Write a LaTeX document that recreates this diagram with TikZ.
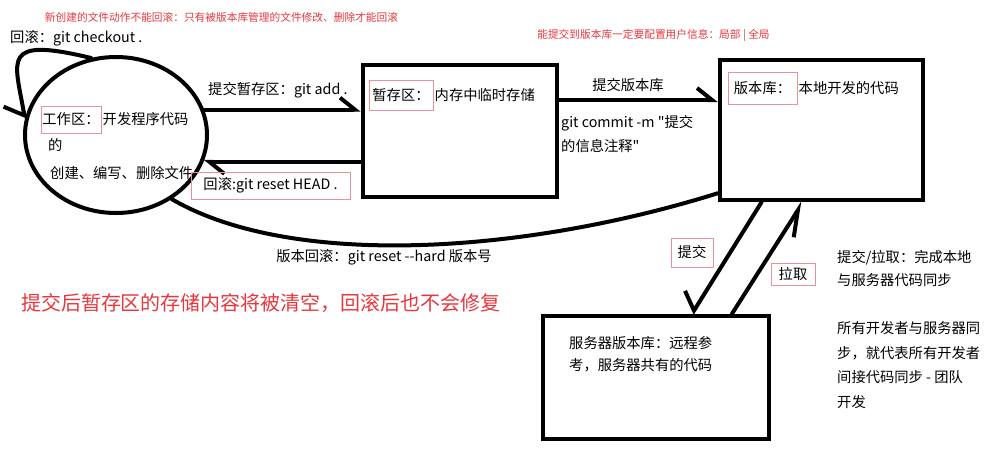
\documentclass[tikz,border=0pt]{standalone}
\usepackage{fontspec}
\setmainfont{Noto Sans CJK SC}[Ligatures=TeXOff]
\usetikzlibrary{arrows.meta}
\usetikzlibrary{shapes.geometric}
\usetikzlibrary{positioning}
\definecolor{framered}{HTML}{E8909C}
\definecolor{notered}{HTML}{E8363C}
\tikzset{
  % thick pen for the areas
  area/.style={draw, rectangle, line width=4.5pt},
  blob/.style={draw, ellipse, line width=4pt},
  % red framed keywords and plain texts
  tag/.style={draw=framered, line width=1pt, inner sep=0pt, font=\fontsize{14.3}{17}\selectfont},
  txt/.style={inner sep=0pt, align=left, font=\fontsize{14.3}{24}\selectfont},
  hint/.style={inner sep=0pt, text=notered, font=\fontsize{10.7}{13}\selectfont},
  flow/.style={draw, line width=4pt, line cap=round},
  barb/.tip={Straight Barb[harpoon, length=15pt, width=24pt]},
  barbr/.tip={Straight Barb[harpoon, swap, length=12pt, width=36pt]}
}
\begin{document}
\begin{tikzpicture}[x=1pt, y=1pt]
    \useasboundingbox (0,0) rectangle (1005,-448);

    % Areas
    \node [blob, minimum width=182pt, minimum height=156pt] (work) at (116,-135) {};
    \node [area, minimum width=194pt, minimum height=132pt] (stage) at (460,-131) {};
    \node [area, minimum width=203pt, minimum height=140pt] (repo) at (821.5,-130) {};
    \node [area, minimum width=226pt, minimum height=123pt] (server) at (656,-377.5) {};

    % Texts inside the areas
    \node [tag, minimum width=60pt, minimum height=27pt] (worktag) at (71,-119.5) {工作区：};
    \node [txt, right=1pt of worktag] (workdesc) {开发程序代码};
    \node [txt, anchor=west] (workof) at (48,-145) {的};
    \node [txt, anchor=west] (workops) at (50,-173) {创建、编写、删除文件};
    \node [tag, minimum width=64pt, minimum height=30pt] (stagetag) at (401,-95) {暂存区：};
    \node [txt, right=1pt of stagetag] (stagedesc) {内存中临时存储};
    \node [tag, minimum width=69pt, minimum height=32pt] (repotag) at (762.5,-88) {版本库：};
    \node [txt, right=1pt of repotag] (repodesc) {本地开发的代码};
    \node [txt, anchor=west, font=\fontsize{14.3}{22}\selectfont] (serverdesc) at (569,-354) {服务器版本库：远程参\\考，服务器共有的代码};

    % Connectors
    \coordinate (commitstart) at ([yshift=31pt]stage.east);
    \draw [flow, -{barb}] (work.16) -- (work.16 -| stage.west);
    \draw [flow, -{barb}] (stage.west |- work.-17) -- (work.-17);
    \draw [flow, -{barb}] (commitstart) -- (commitstart -| repo.west);
    \draw [flow, -{barbr}] ([xshift=-60pt]repo.south) -- ([xshift=36pt]server.north);
    \draw [flow, -{Straight Barb[harpoon, swap, length=25pt, width=22pt]}] ([xshift=76pt]server.north) -- ([xshift=-18.5pt]repo.south);
    \draw [flow, -{Straight Barb[harpoon, swap, length=12pt, width=38pt]}] (work.108) .. controls (0,-36) and (15,-60) .. (work.170);
    \draw [flow] (work.-49) .. controls (290,-268) and (520,-255) .. ([yshift=9pt]repo.south west);

    % Connector labels
    \node [txt, anchor=west] (checkout) at (10,-38) {回滚：git checkout .};
    \node [txt, anchor=west] (addlabel) at (208,-90) {提交暂存区：git add .};
    \node [tag, minimum width=159pt, minimum height=27pt] (resettag) at (270.5,-185.5) {回滚:git reset HEAD .};
    \node [txt] (commitlabel) at (628,-85) {提交版本库};
    \node [txt, anchor=west] (commitcmd) at (561,-134) {git commit -m "提交\\的信息注释"};
    \node [txt] (hardlabel) at (384,-257) {版本回滚：git reset --hard 版本号};
    \node [tag, minimum width=42pt, minimum height=29pt] (pushtag) at (692,-252.5) {提交};
    \node [tag, minimum width=44pt, minimum height=22pt] (pulltag) at (793,-274) {拉取};

    % Notes
    \node [hint] (hintnew) at (221.5,-17) {新创建的文件动作不能回滚：只有被版本库管理的文件修改、删除才能回滚};
    \node [hint] (hintuser) at (653.5,-35) {能提交到版本库一定要配置用户信息：局部 | 全局};
    \node [hint, font=\fontsize{20}{24}\selectfont] (hintclear) at (261,-303) {提交后暂存区的存储内容将被清空，回滚后也不会修复};
    \node [txt, anchor=west, font=\fontsize{14.3}{23}\selectfont] (syncnote) at (837,-268.5) {提交/拉取：完成本地\\与服务器代码同步};
    \node [txt, anchor=west, font=\fontsize{14.3}{24.7}\selectfont] (teamnote) at (837,-365) {所有开发者与服务器同\\步，就代表所有开发者\\间接代码同步 - 团队\\开发};
\end{tikzpicture}
\end{document}
